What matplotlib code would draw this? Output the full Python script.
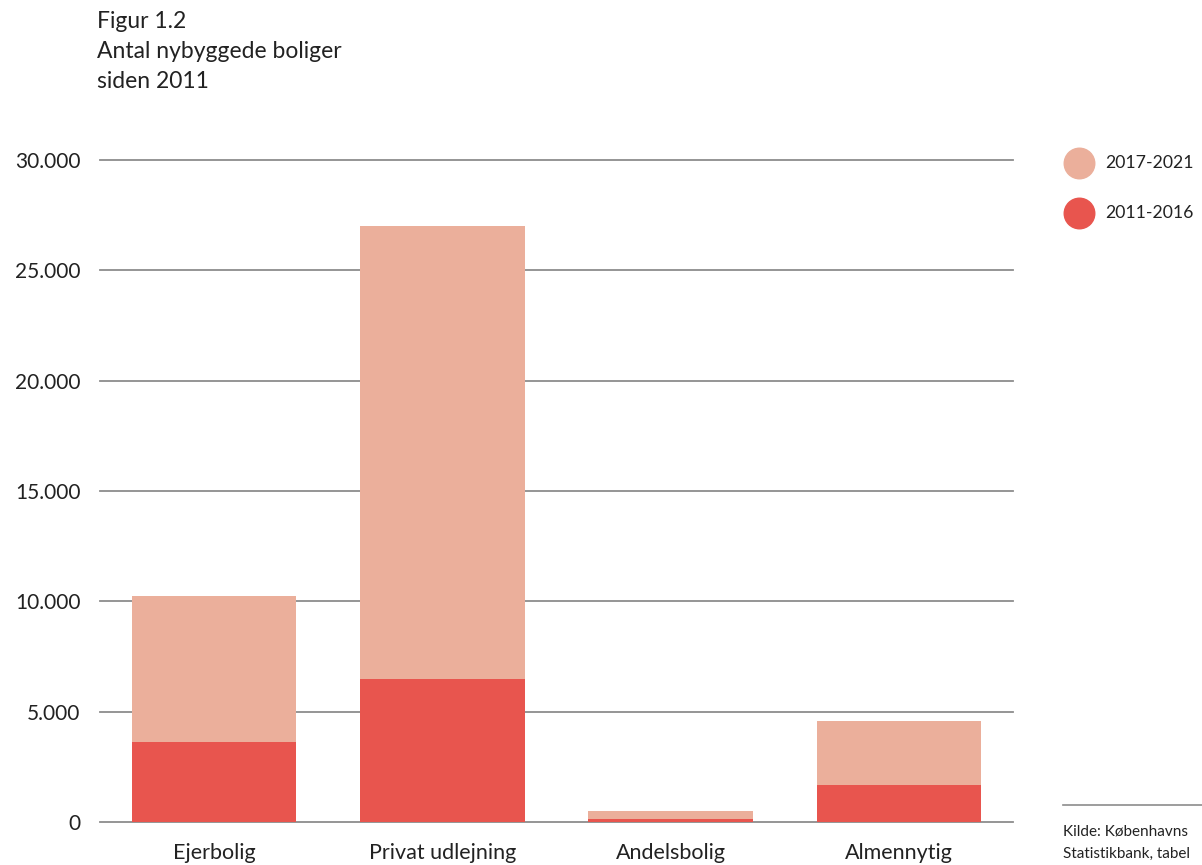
import numpy as np
import matplotlib.pyplot as plt
from matplotlib.lines import Line2D

plt.rcParams['font.family'] = ['Lato', 'DejaVu Sans']

kategorier = ["Ejerbolig", "Privat udlejning", "Andelsbolig", "Almennytig"]
periode_2011_2016 = [3620, 6480, 140, 1680]
periode_2017_2021 = [6630, 20520, 360, 2900]
serier = ["2017-2021", "2011-2016"]
titel = ["Figur 1.2", "Antal nybyggede boliger", "siden 2011"]
kilde = ["Kilde: Københavns", "Statistikbank, tabel"]
yticks = [0, 5000, 10000, 15000, 20000, 25000, 30000]

lys = "#ebaf9b"
mork = "#e8554e"
tekst = "#222222"
W, H = 1202, 865

fig = plt.figure(figsize=(W/100, H/100), dpi=100)
ax = fig.add_axes([100/W, 43/H, 913/W, 662/H])

x = np.arange(len(kategorier))
ax.bar(x, periode_2011_2016, width=0.72, color=mork, zorder=3)
ax.bar(x, periode_2017_2021, width=0.72, bottom=periode_2011_2016, color=lys, zorder=3)

ax.set_xlim(-0.5, 3.5)
ax.set_ylim(0, 30000)
ax.set_yticks(yticks)
ax.set_yticklabels([f"{v:,}".replace(",", ".") for v in yticks])
for v in yticks:
    ax.axhline(v, color="#8c8c8c", lw=1.3, zorder=1, clip_on=False)
ax.set_xticks(x)
ax.set_xticklabels(kategorier)
for s in ax.spines.values():
    s.set_visible(False)
ax.tick_params(axis="y", length=0, pad=14, labelsize=15, labelcolor=tekst)
ax.tick_params(axis="x", length=0, pad=15, labelsize=15.5, labelcolor=tekst)

# titel
for i, linje in enumerate(titel):
    fig.text(97/W, 1 - (28 + 30*i)/H, linje, fontsize=16.5, color=tekst,
             va="baseline", ha="left")

# legende
farver = [lys, mork]
for i, (navn, f) in enumerate(zip(serier, farver)):
    y = 1 - (163 + 50*i)/H
    fig.add_artist(Line2D([1079/W], [y], marker="o", ms=22, ls="", color=f))
    fig.text(1105/W, y, navn, fontsize=12.7, color=tekst, va="center", ha="left")

# kilde
fig.add_artist(Line2D([1063/W, 1.0], [1 - 805/H] * 2, color="#8c8c8c", lw=1.2))
for i, linje in enumerate(kilde):
    fig.text(1063/W, 1 - (835 + 23*i)/H, linje, fontsize=11, color=tekst,
             va="baseline", ha="left")

fig.savefig("out.png", dpi=100)
